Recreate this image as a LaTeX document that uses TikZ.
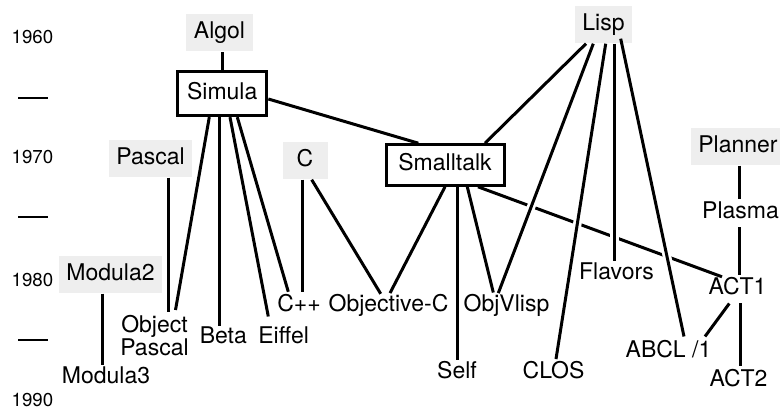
\documentclass[tikz,border=0pt]{standalone}
\usepackage{fontspec}
\setmainfont{TeX Gyre Heros}
\definecolor{boxgray}{RGB}{238,238,238}
\begin{document}
\begin{tikzpicture}[x=1pt,y=-1pt,
  every node/.style={inner sep=0pt, font=\fontsize{23}{23.3}\selectfont},
  lbl/.style={text height=17pt, text depth=5pt, anchor=base},
  rootbox/.style={fill=boxgray, text height=17pt, text depth=5pt, inner xsep=7.5pt, inner ysep=7.5pt},
  langbox/.style={draw, line width=3pt, text height=17pt, text depth=5pt},
  year/.style={font=\fontsize{18.7}{20}\selectfont, anchor=base},
  conn/.style={line width=3pt},
  gap/.style={draw=white, line width=8.5pt, shorten <=60pt},
  yeartick/.style={line width=2.3pt}]
\useasboundingbox (0,0) rectangle (780,411);

% time axis
\node[year] (y1960) at (32.5,44) {1960};
\node[year] (y1970) at (32.5,164) {1970};
\node[year] (y1980) at (32.5,287) {1980};
\node[year] (y1990) at (32.5,406.7) {1990};
\draw[yeartick] (18,97.7) -- (47.7,97.7);
\draw[yeartick] (18,217.3) -- (47.7,217.3);
\draw[yeartick] (18,340) -- (47.7,340);

% root languages
\node[rootbox] (algol) at (219.5,33) {Algol};
\node[rootbox] (pascal) at (150.5,159) {Pascal};
\node[rootbox, minimum width=45pt] (c) at (305,161) {C};
\node[rootbox] (lisp) at (603.5,25) {Lisp};
\node[rootbox] (planner) at (738,147) {Planner};
\node[rootbox] (modula2) at (110.5,275) {Modula2};

% boxed languages
\node[langbox, minimum width=89.3pt, minimum height=43.7pt] (simula) at (222.2,93.8) {Simula};
\node[langbox, minimum width=118pt, minimum height=40.6pt] (smalltalk) at (445,165) {Smalltalk};

% descendants
\node[anchor=north, align=center] (objpascal) at (154.5,315) {Object\\Pascal};
\node[lbl] (beta) at (223.3,344) {Beta};
\node[lbl] (eiffel) at (283.7,344) {Eiffel};
\node[lbl] (cpp) at (299,311.7) {C++};
\node[lbl] (objc) at (388.5,311.7) {Objective-C};
\node[lbl] (objvlisp) at (506.5,311.7) {ObjVlisp};
\node[lbl] (self) at (457,379) {Self};
\node[lbl] (clos) at (553.5,379) {CLOS};
\node[lbl] (flavors) at (616.5,280) {Flavors};
\node[lbl] (plasma) at (740.5,219) {Plasma};
\node[lbl] (act1) at (737.5,294.3) {ACT1};
\node[lbl] (abcl) at (668.5,357.7) {ABCL /1};
\node[lbl] (act2) at (738.5,387) {ACT2};
\node[lbl] (modula3) at (106,384) {Modula3};

% Smalltalk to ACT1, crossed by the Lisp lines
\draw[conn] ([xshift=33pt]smalltalk.south) -- ([xshift=-15.5pt,yshift=0.3pt]act1.north);
\draw[gap] ([xshift=-10.2pt]lisp.south) -- ([xshift=-8.2pt,yshift=1.4pt]objvlisp.north);
\draw[gap] ([xshift=2.2pt]lisp.south) -- ([xshift=2.5pt,yshift=2.7pt]clos.north);
\draw[gap] ([xshift=10.8pt]lisp.south) -- ([xshift=-2.2pt,yshift=1.3pt]flavors.north);
\draw[gap] ([xshift=17.2pt,yshift=5pt]lisp.south) -- ([xshift=15.5pt,yshift=4pt]abcl.north);

% lineage
\draw[conn] (simula.north) -- (simula.north |- algol.south);
\draw[conn] ([xshift=-12.9pt]simula.south) -- ([xshift=21pt,yshift=5pt]objpascal.north);
\draw[conn] ([xshift=18pt]pascal.south) -- ([xshift=14pt,yshift=3.3pt]objpascal.north);
\draw[conn] ([xshift=-2.9pt]simula.south) -- ([xshift=-4pt,yshift=1pt]beta.north);
\draw[conn] ([xshift=7.8pt]simula.south) -- ([xshift=-15.4pt,yshift=10.3pt]eiffel.north);
\draw[conn] ([xshift=15.1pt]simula.south) -- ([xshift=-10.7pt,yshift=2.7pt]cpp.north);
\draw[conn] ([xshift=-2.7pt]c.south) -- ([xshift=3.3pt,yshift=2.7pt]cpp.north);
\draw[conn] ([xshift=6.7pt]c.south) -- ([xshift=-7.8pt,yshift=0.7pt]objc.north);
\draw[conn] (smalltalk.south) -- ([xshift=1.5pt,yshift=1.4pt]objc.north);
\draw[conn] ([xshift=12.3pt]smalltalk.south) -- ([xshift=0.3pt,yshift=2pt]self.north);
\draw[conn] ([xshift=22.3pt]smalltalk.south) -- ([xshift=-13.2pt,yshift=2pt]objvlisp.north);
\draw[conn] ([yshift=-5.2pt]simula.east) -- ([xshift=-26.7pt]smalltalk.north);
\draw[conn] ([xshift=-17.5pt]lisp.south) -- ([xshift=40pt]smalltalk.north);
\draw[conn] ([xshift=-10.2pt]lisp.south) -- ([xshift=-8.2pt,yshift=1.4pt]objvlisp.north);
\draw[conn] ([xshift=2.2pt]lisp.south) -- ([xshift=2.5pt,yshift=2.7pt]clos.north);
\draw[conn] ([xshift=10.8pt]lisp.south) -- ([xshift=-2.2pt,yshift=1.3pt]flavors.north);
\draw[conn] ([xshift=17.2pt,yshift=5pt]lisp.south) -- ([xshift=15.5pt,yshift=4pt]abcl.north);
\draw[conn] ([xshift=1.3pt]planner.south) -- ([xshift=-1.2pt,yshift=2.7pt]plasma.north);
\draw[conn] ([xshift=-1.2pt,yshift=-3.3pt]plasma.south) -- ([xshift=1.8pt,yshift=2.3pt]act1.north);
\draw[conn] ([xshift=-8.2pt,yshift=-4pt]act1.south) -- ([xshift=36.5pt,yshift=4pt]abcl.north);
\draw[conn] ([xshift=2.5pt,yshift=-4pt]act1.south) -- ([xshift=1.5pt,yshift=3.3pt]act2.north);
\draw[conn] ([xshift=-8.2pt]modula2.south) -- ([xshift=-3.7pt,yshift=2pt]modula3.north);
\end{tikzpicture}
\end{document}
